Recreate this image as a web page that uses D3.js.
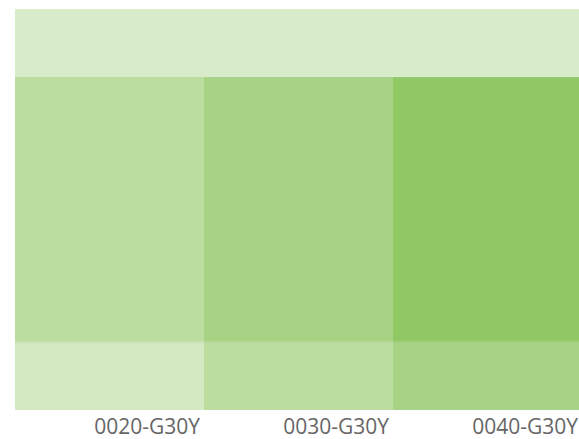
<!DOCTYPE html>
<html>
<head>
<meta charset="utf-8">
<script src="https://cdn.jsdelivr.net/npm/d3@7"></script>
<style>
html,body{margin:0;padding:0;background:#fff;overflow:hidden;}
svg{display:block;}
</style>
</head>
<body>
<div id="chart"></div>
<script>
const categories = ["0020-G30Y", "0030-G30Y", "0040-G30Y"];
const rows = ["top", "middle", "bottom"];
const rowShare = [0.17, 0.66, 0.17];
const topColors = ["#d8ecca"];
const middleColors = ["#bbde9f", "#a8d384", "#90c963"];
const bottomColors = ["#d4e9c2", "#bbde9f", "#a8d384"];

const W = 579, H = 439;
const svg = d3.select("#chart").append("svg").attr("width", W).attr("height", H);

const x = d3.scaleBand().domain(categories).range([15, 582]).padding(0);
const cum = [0];
rowShare.forEach(v => cum.push(cum[cum.length - 1] + v));
const y = d3.scaleLinear().domain([0, cum[cum.length - 1]]).range([9, 410]);

const cells = [];
cells.push({row: 0, x0: x.range()[0], x1: x.range()[1], color: topColors[0]});
categories.forEach((c, i) => {
  cells.push({row: 1, x0: x(c), x1: x(c) + x.bandwidth(), color: middleColors[i]});
  cells.push({row: 2, x0: x(c), x1: x(c) + x.bandwidth(), color: bottomColors[i]});
});

svg.append("g").selectAll("rect").data(cells).join("rect")
  .attr("x", d => d.x0)
  .attr("y", d => y(cum[d.row]))
  .attr("width", d => d.x1 - d.x0)
  .attr("height", d => y(cum[d.row + 1]) - y(cum[d.row]))
  .attr("fill", d => d.color);

// faint row separators
svg.append("g").selectAll("line").data([1, 2]).join("line")
  .attr("x1", 15).attr("x2", 582)
  .attr("y1", d => Math.round(y(cum[d])) + 0.5)
  .attr("y2", d => Math.round(y(cum[d])) + 0.5)
  .attr("stroke", "rgba(0,0,0,0.04)");

const axis = d3.axisBottom(x).tickSize(0).tickPadding(0);
const g = svg.append("g").attr("transform", "translate(0,410)").call(axis);
g.select(".domain").remove();
g.selectAll("text")
  .attr("text-anchor", "end")
  .attr("x", x.bandwidth() / 2 - 4)
  .attr("dy", null)
  .attr("y", 24)
  .attr("fill", "#666")
  .style("font-family", "'Open Sans', sans-serif")
  .style("font-size", "21px");
</script>
</body>
</html>
